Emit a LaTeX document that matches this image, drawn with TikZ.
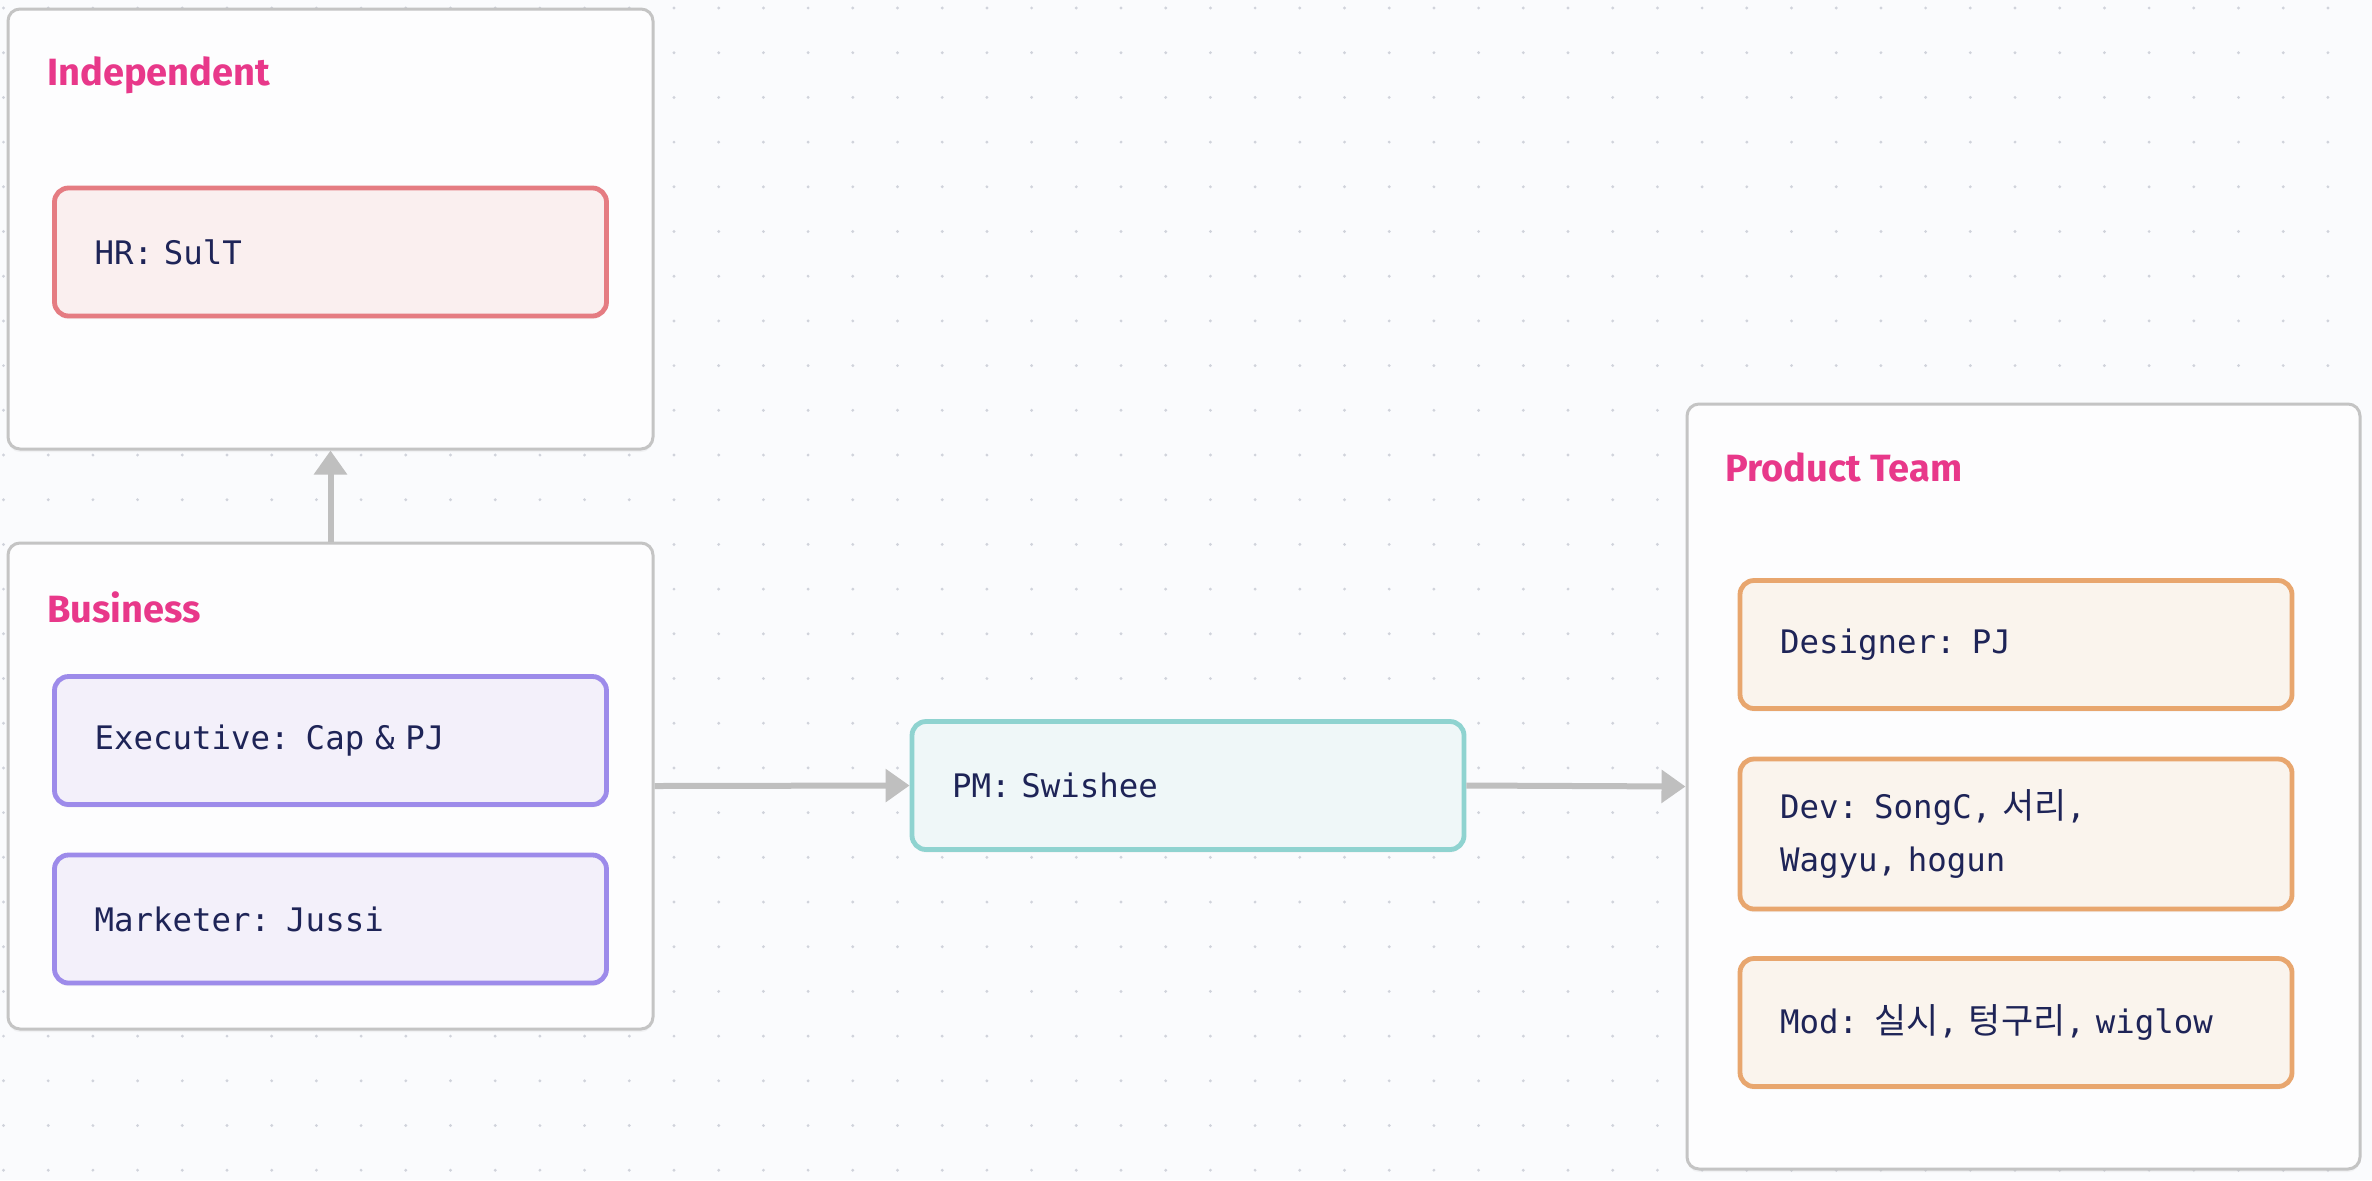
\documentclass[tikz,border=0pt]{standalone}
\usepackage{fontspec}
\usepackage{tikz}
\usetikzlibrary{arrows.meta,shadows}
\newfontfamily\monofont[WordSpace=1.3]{DejaVu Sans Mono}
\newfontfamily\kofont[Scale=1.08]{Noto Sans CJK KR}
\newfontfamily\titlefont{Fira Sans}
\newcommand{\ko}[1]{{\kofont #1}}
\definecolor{bgc}{HTML}{FAFBFD}
\definecolor{dotc}{HTML}{D0D3DB}
\definecolor{grpline}{HTML}{C4C4C4}
\definecolor{grpfill}{HTML}{FDFDFE}
\definecolor{titlec}{HTML}{E8388A}
\definecolor{txtc}{HTML}{1E2457}
\definecolor{hrline}{HTML}{E57C82}
\definecolor{hrfill}{HTML}{FAEFEF}
\definecolor{bizline}{HTML}{9D8BEA}
\definecolor{bizfill}{HTML}{F3F0FA}
\definecolor{pmline}{HTML}{8FD3D0}
\definecolor{pmfill}{HTML}{EFF7F8}
\definecolor{prodline}{HTML}{E8A66E}
\definecolor{prodfill}{HTML}{FAF4ED}
\definecolor{arrc}{HTML}{BFBFBF}
\tikzset{
  group/.style={draw=grpline,fill=grpfill,line width=1.5pt,rounded corners=6pt,
    drop shadow={opacity=0.08,shadow xshift=0pt,shadow yshift=-1.5pt}},
  grouptitle/.style={anchor=west,inner sep=0pt,text=titlec,font=\titlefont\bfseries\fontsize{19}{23}\selectfont},
  role/.style={line width=2.4pt,rounded corners=7pt,minimum height=64pt,text width=236pt,
    inner xsep=20pt,align=left,text=txtc,font=\monofont\fontsize{16.2}{26.5}\selectfont,
    drop shadow={opacity=0.08,shadow xshift=0pt,shadow yshift=-1.5pt}},
  hrrole/.style={role,draw=hrline,fill=hrfill},
  bizrole/.style={role,draw=bizline,fill=bizfill},
  pmrole/.style={role,draw=pmline,fill=pmfill},
  prodrole/.style={role,draw=prodline,fill=prodfill},
  link/.style={draw=arrc,line width=3pt,-{Triangle[length=12pt,width=16pt]}}
}
\begin{document}
\begin{tikzpicture}[x=0.5pt,y=-0.5pt]
\useasboundingbox[fill=bgc] (0,0) rectangle (2372,1180);
\foreach \i in {0,...,52}
  \foreach \j in {0,...,26}
    \fill[dotc] (3.5+44.7*\i,8+44.7*\j) circle (0.8pt); % dot grid
% groups
\node[group,minimum width=322.5pt,minimum height=220pt] (indep) at (330.5,229) {};
\node[group,minimum width=322.5pt,minimum height=243pt] (business) at (330.5,786) {};
\node[group,minimum width=336.5pt,minimum height=382.5pt] (product) at (2023.5,786.5) {};
\node[grouptitle] (indepT) at (47,75) {Independent};
\node[grouptitle] (businessT) at (47,607) {Business};
\node[grouptitle] (productT) at (1725,467) {Product Team};
% roles
\node[hrrole] (hr) at (330.5,252) {HR: SulT};
\node[bizrole] (exec) at (330.5,740.5) {Executive: Cap \& PJ};
\node[bizrole] (market) at (330.5,919) {Marketer: Jussi};
\node[pmrole] (pm) at (1188,785.5) {PM: Swishee};
\node[prodrole] (design) at (2016,644.5) {Designer: PJ};
\node[prodrole,minimum height=75pt] (dev) at (2016,834) {Dev: SongC, \ko{서리},\\Wagyu, hogun};
\node[prodrole] (mod) at (2016,1022.5) {Mod: \ko{실시}, \ko{텅구리}, wiglow};
% links
\draw[link] (business.north) -- (indep.south);
\draw[link] (business.east) -- (pm.west);
\draw[link] (pm.east) -- (product.west);
\end{tikzpicture}
\end{document}
